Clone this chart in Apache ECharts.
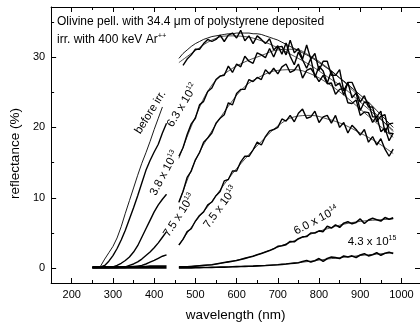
<!DOCTYPE html>
<html>
<head>
<meta charset="utf-8">
<script src="https://cdn.jsdelivr.net/npm/echarts@6/dist/echarts.min.js"></script>
<style>
  html, body { margin: 0; padding: 0; background: #fff; }
  #chart { width: 420px; height: 327px; }
</style>
</head>
<body>
<div id="chart"></div>
<script>
// wavelength grids (nm)
const uvWl = [250, 260, 270, 280, 290, 300, 310, 320, 330, 340, 350, 360, 370, 380, 390, 400, 410, 420, 430];
const visWl = [460, 470, 480, 490, 500, 510, 520, 530, 540, 550, 560, 570, 580, 590, 600, 610, 620, 630, 640, 650,
  660, 670, 680, 690, 700, 710, 720, 730, 740, 750, 760, 770, 780, 790, 800, 810, 820, 830, 840, 850,
  860, 870, 880, 890, 900, 910, 920, 930, 940, 950, 960, 970, 980];
const fitWl = [460, 500, 540, 580, 620, 660, 700, 740, 780, 820, 860, 900, 940, 980];

// tick values
const xMajor = [200, 300, 400, 500, 600, 700, 800, 900, 1000];
const xMinor = [250, 350, 450, 550, 650, 750, 850, 950];
const yMajor = [0, 10, 20, 30];
const yMinor = [5, 15, 25, 35];

// reflectance (%), UV part
const uvBefore = [null, null, 0.3, 1.3, 2.2, 3.1, 4.3, 5.9, 7.8, 9.6, 11.4, 13.2, 14.9, 16.4, 18.0, 19.7, 21.3, 22.9, null];
const uv63e12 = [0.1, 0.1, 0.2, 0.4, 1.0, 1.8, 2.8, 4.0, 5.4, 7.0, 8.6, 10.3, 12.1, 13.9, 15.3, 16.5, 17.6, 19.2, 20.6];
const uv38e13 = [0.1, 0.1, 0.1, 0.1, 0.1, 0.2, 0.4, 0.7, 1.1, 1.6, 2.3, 3.2, 4.4, 5.6, 6.8, 8.0, 9.0, 9.8, 10.5];
const uv75e13 = [0.1, 0.1, 0.1, 0.1, 0.1, 0.1, 0.1, 0.15, 0.2, 0.4, 0.6, 0.9, 1.3, 1.8, 2.3, 2.9, 3.6, 4.4, 5.2];
const uv75e13b = [0.1, 0.1, 0.1, 0.1, 0.1, 0.1, 0.1, 0.1, 0.1, 0.15, 0.2, 0.3, 0.4, 0.6, 0.85, 1.1, 1.4, 1.7, 1.9];
const uv60e14 = [0.2, 0.2, 0.2, 0.2, 0.2, 0.2, 0.2, 0.2, 0.2, 0.2, 0.25, 0.25, 0.25, 0.25, 0.3, 0.3, 0.3, 0.3, 0.3];
const uv43e15 = [0.05, 0.05, 0.05, 0.05, 0.05, 0.05, 0.05, 0.05, 0.05, 0.05, 0.05, 0.05, 0.05, 0.05, 0.05, 0.05, 0.05, 0.05, 0.05];

// reflectance (%), visible part
const visBefore = [29.8, 30.5, 31.0, 31.5, 31.9, 32.2, 32.5, 32.7, 32.9, 33.0, 33.1, 33.2, 33.3, 33.3, 33.4, 33.4, 33.4, 33.4, 33.3, 33.3,
  33.2, 33.0, 32.8, 32.6, 32.4, 32.1, 31.8, 31.5, 31.2, 30.9, 30.6, 30.3, 30.0, 29.6, 29.2, 28.8, 28.4, 28.0, 27.5, 27.0,
  26.6, 26.1, 25.6, 25.1, 24.6, 24.1, 23.6, 23.0, 22.4, 21.8, 21.2, 20.6, 20.0];
const vis63e12 = [null, 28.8, 29.7, 30.3, 31.1, 31.1, 31.9, 32.5, 32.2, 32.5, 33.1, 32.2, 33.1, 33.4, 32.7, 33.8, 32.3, 33.0, 31.9, 33.0,
  32.5, 31.9, 32.6, 31.0, 31.6, 30.4, 32.0, 30.1, 28.9, 30.7, 29.6, 28.4, 29.8, 27.1, 28.7, 28.0, 26.3, 28.0, 25.9, 26.3,
  24.6, 26.4, 24.2, 24.9, 22.4, 23.6, 23.5, 21.5, 21.5, 22.3, 19.3, 20.5, 20.6];
const vis38e13 = [15.9, 17.1, 19.0, 20.5, 21.3, 23.2, 23.7, 25.1, 25.6, 26.8, 27.3, 27.4, 28.7, 27.8, 29.0, 28.6, 30.1, 29.4, 29.1, 30.6,
  30.3, 29.9, 31.2, 30.0, 31.4, 31.5, 30.3, 32.4, 30.6, 31.2, 29.7, 31.7, 29.7, 30.5, 28.1, 29.4, 29.4, 27.4, 27.4, 28.2,
  25.2, 26.4, 26.4, 25.1, 23.6, 24.5, 22.9, 22.9, 20.8, 21.6, 21.8, 19.2, 19.1];
const vis75e13 = [9.4, 10.9, 12.9, 13.8, 15.4, 16.4, 17.9, 18.5, 19.2, 20.6, 21.3, 21.8, 23.5, 23.2, 24.8, 25.4, 25.4, 26.8, 26.5, 27.1,
  26.8, 28.2, 27.6, 28.4, 27.6, 28.6, 29.0, 27.8, 28.1, 29.0, 27.0, 28.1, 28.4, 27.5, 26.5, 27.4, 26.2, 26.3, 24.7, 25.4,
  25.5, 23.5, 23.4, 23.9, 21.7, 22.2, 22.1, 20.7, 21.6, 19.4, 19.9, 18.1, 19.2];
const vis75e13b = [3.3, 4.1, 5.2, 5.6, 6.7, 7.5, 8.0, 9.0, 9.4, 10.3, 10.9, 12.4, 12.6, 13.8, 13.8, 15.1, 15.9, 15.9, 16.8, 17.9,
  17.5, 18.7, 19.5, 19.7, 20.0, 21.2, 20.9, 21.7, 20.8, 22.0, 22.6, 21.3, 21.5, 22.3, 20.7, 21.5, 21.7, 20.6, 21.7, 20.0,
  20.7, 19.2, 20.3, 19.7, 18.9, 19.7, 17.9, 18.7, 17.5, 18.4, 16.9, 15.9, 16.9];
const vis60e14 = [0.2, 0.2, 0.2, 0.25, 0.3, 0.35, 0.4, 0.45, 0.5, 0.6, 0.7, 0.8, 0.9, 1.0, 1.1, 1.25, 1.4, 1.55, 1.7, 1.9,
  2.1, 2.3, 2.5, 2.75, 3.1, 3.2, 3.35, 3.8, 3.75, 4.2, 4.45, 4.5, 5.0, 5.0, 5.3, 5.2, 5.95, 5.7, 6.15, 5.8,
  6.4, 6.6, 6.3, 6.5, 7.0, 6.35, 6.85, 7.1, 6.9, 6.7, 7.2, 6.95, 7.15];
const vis43e15 = [0.05, 0.05, 0.05, 0.05, 0.08, 0.09, 0.1, 0.11, 0.12, 0.13, 0.15, 0.16, 0.18, 0.2, 0.22, 0.24, 0.26, 0.28, 0.3, 0.33,
  0.35, 0.38, 0.42, 0.46, 0.5, 0.55, 0.6, 0.66, 0.72, 0.78, 0.95, 1.1, 0.88, 1.05, 1.37, 0.97, 1.38, 1.58, 1.5, 1.38,
  1.73, 1.58, 1.75, 1.52, 1.88, 2.07, 1.75, 1.9, 2.2, 1.83, 2.13, 2.28, 2.1];

// smooth fits, visible part
const fit63e12 = [29.2, 30.9, 32.4, 33.0, 32.9, 32.3, 31.3, 30.1, 28.8, 27.2, 25.6, 23.6, 21.6, 19.6];
const fit38e13 = [15.6, 21.5, 26.0, 28.0, 29.3, 30.2, 31.0, 31.1, 30.1, 28.5, 26.5, 24.2, 21.8, 19.4];
const fit75e13 = [9.3, 15.3, 19.5, 23.0, 25.8, 27.3, 28.1, 28.2, 27.6, 26.3, 24.6, 22.6, 20.6, 18.6];
const fit75e13b = [3.3, 6.6, 9.5, 12.7, 15.5, 18.0, 20.2, 21.5, 21.7, 21.2, 20.4, 19.2, 17.9, 16.3];
const fit60e14 = [0.2, 0.3, 0.5, 0.9, 1.4, 2.1, 3.0, 3.9, 4.85, 5.6, 6.25, 6.65, 6.85, 7.0];
const fit43e15 = [0.05, 0.08, 0.12, 0.18, 0.26, 0.35, 0.5, 0.72, 1.0, 1.3, 1.55, 1.8, 2.0, 2.2];

const FONT = 'Liberation Sans, Arial, Helvetica, sans-serif';

function pairs(wl, vals) {
  return wl.map((w, i) => [w, vals[i]]);
}

function spectrum(name, uv, vis, width) {
  return {
    name: name,
    type: 'line',
    symbol: 'none',
    connectNulls: false,
    data: pairs(uvWl, uv).concat([[445, null]], pairs(visWl, vis)),
    lineStyle: { color: '#000', width: width },
    z: 2
  };
}

function fit(vals) {
  return {
    type: 'line',
    symbol: 'none',
    smooth: 0.4,
    data: pairs(fitWl, vals),
    lineStyle: { color: '#000', width: 0.7 },
    z: 3
  };
}

function xAx(pos, ticks, len, label) {
  return {
    type: 'value', position: pos, min: 150, max: 1045,
    axisLine: { show: len === 5, onZero: false, lineStyle: { color: '#000', width: 1 } },
    axisTick: { show: true, inside: true, length: len, customValues: ticks, lineStyle: { color: '#000', width: 1 } },
    axisLabel: { show: label, customValues: ticks, formatter: (v) => String(v), fontSize: 11, margin: 6, color: '#000', fontFamily: FONT },
    splitLine: { show: false }
  };
}

function yAx(pos, ticks, len, label) {
  return {
    type: 'value', position: pos, min: -2.1, max: 37.1,
    axisLine: { show: len === 5, onZero: false, lineStyle: { color: '#000', width: 1 } },
    axisTick: { show: true, inside: true, length: len, customValues: ticks, lineStyle: { color: '#000', width: 1 } },
    axisLabel: { show: label, customValues: ticks, formatter: (v) => String(v), fontSize: 11, margin: 6, color: '#000', fontFamily: FONT },
    splitLine: { show: false }
  };
}

const xBottom = xAx('bottom', xMajor, 5, true);
xBottom.name = 'wavelength (nm)';
xBottom.nameLocation = 'middle';
xBottom.nameGap = 25;
xBottom.nameTextStyle = { fontSize: 13.5, color: '#000', fontFamily: FONT };

const yLeft = yAx('left', yMajor, 5, true);
yLeft.name = 'reflectance (%)';
yLeft.nameLocation = 'middle';
yLeft.nameRotate = 90;
yLeft.nameGap = 25;
yLeft.nameTextStyle = { fontSize: 13.5, color: '#000', fontFamily: FONT, padding: [0, 17, 0, 0] };

const sup = { fontSize: 7, verticalAlign: 'top', lineHeight: 13, fontFamily: FONT, fill: '#000' };
const base = { fontSize: 11.5, verticalAlign: 'bottom', lineHeight: 13, fontFamily: FONT, fill: '#000' };

function tag(text, x, y, deg) {
  return {
    type: 'text', x: x, y: y, rotation: deg * Math.PI / 180, z: 10,
    style: { text: text, align: 'center', verticalAlign: 'middle', rich: { b: base, s: sup } }
  };
}

const chart = echarts.init(document.getElementById('chart'), null, { renderer: 'canvas' });
chart.setOption({
  animation: false,
  backgroundColor: '#fff',
  grid: { left: 47, right: -1, top: 7, bottom: 44, containLabel: false },
  xAxis: [xBottom, xAx('bottom', xMinor, 3, false), xAx('top', xMajor, 5, false), xAx('top', xMinor, 3, false)],
  yAxis: [yLeft, yAx('left', yMinor, 3, false), yAx('right', yMajor, 5, false), yAx('right', yMinor, 3, false)],
  series: [
    spectrum('before irr.', uvBefore, visBefore, 0.9),
    spectrum('6.3 x 10^12', uv63e12, vis63e12, 1.4),
    spectrum('3.8 x 10^13', uv38e13, vis38e13, 1.4),
    spectrum('7.5 x 10^13', uv75e13, vis75e13, 1.4),
    spectrum('7.5 x 10^13 b', uv75e13b, vis75e13b, 1.4),
    spectrum('6.0 x 10^14', uv60e14, vis60e14, 1.6),
    spectrum('4.3 x 10^15', uv43e15, vis43e15, 1.6),
    fit(fit63e12), fit(fit38e13), fit(fit75e13), fit(fit75e13b), fit(fit60e14), fit(fit43e15)
  ],
  graphic: [
    { type: 'text', x: 57, y: 22, z: 10,
      style: { text: 'Olivine pell. with 34.4 μm of polystyrene deposited', fontSize: 12, fontFamily: FONT, fill: '#000', verticalAlign: 'middle' } },
    { type: 'text', x: 57, y: 39, z: 10,
      style: { text: '{b|irr. with 400 keV Ar}{s|++}', verticalAlign: 'middle',
        rich: { b: { fontSize: 12, verticalAlign: 'bottom', lineHeight: 14, fontFamily: FONT, fill: '#000' },
                s: { fontSize: 7.5, verticalAlign: 'top', lineHeight: 14, fontFamily: FONT, fill: '#000' } } } },
    tag('{b|before irr.}', 150, 112, 58),
    tag('{b|6.3 x 10}{s|12}', 182, 105, 59),
    tag('{b|3.8 x 10}{s|13}', 164, 173, 62),
    tag('{b|7.5 x 10}{s|13}', 179, 215, 57),
    tag('{b|7.5 x 10}{s|13}', 220, 207, 54),
    tag('{b|6.0 x 10}{s|14}', 316, 220, 28),
    tag('{b|4.3 x 10}{s|15}', 372, 241, 0)
  ]
});
window.addEventListener('resize', () => chart.resize());
</script>
</body>
</html>
